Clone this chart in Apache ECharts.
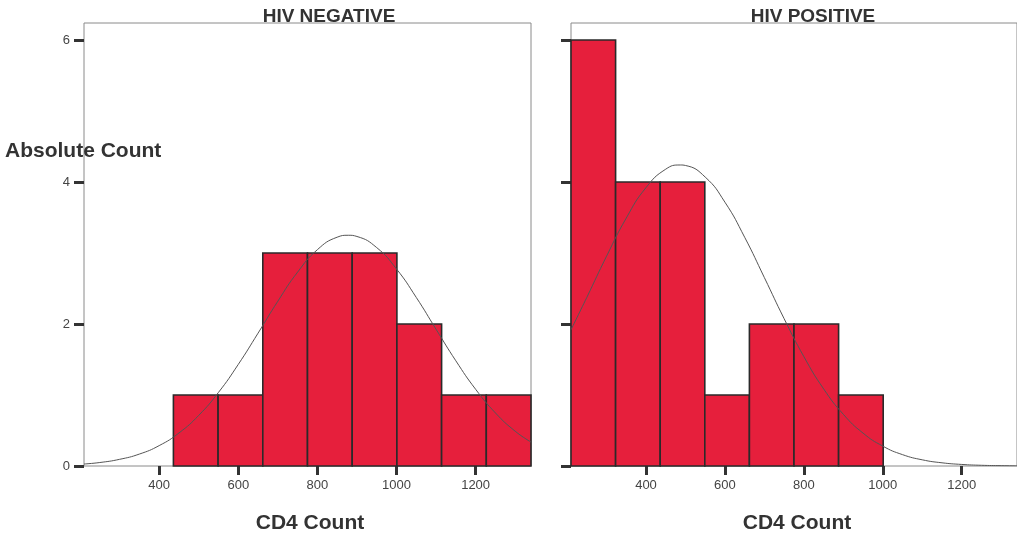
<!DOCTYPE html>
<html>
<head>
<meta charset="utf-8">
<script src="https://cdn.jsdelivr.net/npm/echarts@6/dist/echarts.min.js"></script>
<style>
html,body{margin:0;padding:0;background:#fff;}
#chart{width:1017px;height:538px;}
</style>
</head>
<body>
<div id="chart"></div>
<script>
// ---- data ----
const panelTitles = ['HIV NEGATIVE', 'HIV POSITIVE'];
const binEdges = [210, 323, 436, 549, 662, 775, 888, 1001, 1114, 1227, 1340];
const countsNegative = [0, 0, 1, 1, 3, 3, 3, 2, 1, 1];
const countsPositive = [6, 4, 4, 1, 2, 2, 1, 0, 0, 0];
const xTickValues = [400, 600, 800, 1000, 1200];
const yTickValues = [0, 2, 4, 6];
const curveX = [210, 250, 300, 350, 400, 450, 500, 550, 600, 650, 700, 750, 800, 850, 878, 900, 950, 1000, 1050, 1100, 1150, 1200, 1250, 1300, 1340];
const curveNegative = [0.028, 0.049, 0.094, 0.168, 0.287, 0.465, 0.713, 1.037, 1.431, 1.871, 2.321, 2.731, 3.047, 3.223, 3.25, 3.233, 3.076, 2.775, 2.374, 1.926, 1.482, 1.081, 0.748, 0.490, 0.337];
const curveXPos = [210, 250, 300, 350, 400, 450, 487, 500, 550, 600, 650, 700, 750, 800, 850, 900, 950, 1000, 1050, 1100, 1150, 1200, 1250, 1300, 1340];
const curvePositive = [1.919, 2.374, 2.954, 3.492, 3.921, 4.181, 4.24, 4.233, 4.070, 3.716, 3.222, 2.653, 2.075, 1.541, 1.087, 0.728, 0.463, 0.280, 0.160, 0.087, 0.045, 0.022, 0.010, 0.005, 0.002];
const xAxisTitle = 'CD4 Count';
const yAxisTitle = 'Absolute Count';

// ---- build ----
const FONT = '"Liberation Sans", Arial, sans-serif';
const xMin = 210, xMax = 1340, yMax = 6.24;

function binData(counts) {
  const out = [];
  counts.forEach((c, i) => { if (c > 0) out.push([binEdges[i], binEdges[i + 1], c]); });
  return out;
}
function renderBar(params, api) {
  const p0 = api.coord([api.value(0), api.value(2)]);
  const p1 = api.coord([api.value(1), 0]);
  return {
    type: 'rect',
    shape: { x: p0[0], y: p0[1], width: p1[0] - p0[0], height: p1[1] - p0[1] },
    style: { fill: '#E61F3C', stroke: '#2a2a2a', lineWidth: 1.6 }
  };
}
function xAx(idx) {
  return {
    type: 'value', gridIndex: idx, min: xMin, max: xMax,
    splitLine: { show: false },
    axisLine: { show: false },
    axisTick: { show: true, customValues: xTickValues, length: 9, lineStyle: { color: '#333', width: 3 } },
    axisLabel: { show: true, customValues: xTickValues, formatter: v => String(v), margin: 13, color: '#444', fontSize: 13, fontFamily: FONT }
  };
}
function yAx(idx, labels) {
  return {
    type: 'value', gridIndex: idx, min: 0, max: yMax,
    splitLine: { show: false },
    axisLine: { show: false },
    axisTick: { show: true, customValues: yTickValues, length: 10, lineStyle: { color: '#333', width: 3 } },
    axisLabel: { show: labels, customValues: yTickValues, formatter: v => String(v), margin: 14, color: '#444', fontSize: 13, fontFamily: FONT }
  };
}

const option = {
  animation: false,
  backgroundColor: '#fff',
  title: [
    { text: panelTitles[0], left: 324, top: 2, textAlign: 'center', textStyle: { fontSize: 19, fontWeight: 'bold', color: '#333', fontFamily: FONT } },
    { text: panelTitles[1], left: 808, top: 2, textAlign: 'center', textStyle: { fontSize: 19, fontWeight: 'bold', color: '#333', fontFamily: FONT } },
    { text: xAxisTitle, left: 305, top: 508, textAlign: 'center', textStyle: { fontSize: 21, fontWeight: 'bold', color: '#333', fontFamily: FONT } },
    { text: xAxisTitle, left: 792, top: 508, textAlign: 'center', textStyle: { fontSize: 21, fontWeight: 'bold', color: '#333', fontFamily: FONT } },
    { text: yAxisTitle, left: 0, top: 136, textStyle: { fontSize: 21, fontWeight: 'bold', color: '#333', fontFamily: FONT } }
  ],
  grid: [
    { left: 84, top: 23, width: 447, height: 443, show: true, borderColor: '#8a8a8a', borderWidth: 1, backgroundColor: 'transparent' },
    { left: 571, top: 23, width: 447, height: 443, show: true, borderColor: '#8a8a8a', borderWidth: 1, backgroundColor: 'transparent' }
  ],
  xAxis: [xAx(0), xAx(1)],
  yAxis: [yAx(0, true), yAx(1, false)],
  series: [
    { type: 'custom', xAxisIndex: 0, yAxisIndex: 0, renderItem: renderBar, encode: { x: [0, 1], y: 2 }, data: binData(countsNegative), z: 2 },
    { type: 'custom', xAxisIndex: 1, yAxisIndex: 1, renderItem: renderBar, encode: { x: [0, 1], y: 2 }, data: binData(countsPositive), z: 2 },
    { type: 'line', xAxisIndex: 0, yAxisIndex: 0, smooth: true, symbol: 'none', z: 3,
      lineStyle: { color: '#555', width: 1 }, data: curveX.map((x, i) => [x, curveNegative[i]]) },
    { type: 'line', xAxisIndex: 1, yAxisIndex: 1, smooth: true, symbol: 'none', z: 3,
      lineStyle: { color: '#555', width: 1 }, data: curveXPos.map((x, i) => [x, curvePositive[i]]) }
  ]
};
const chart = echarts.init(document.getElementById('chart'), null, { renderer: 'canvas' });
chart.setOption(option);
</script>
</body>
</html>
